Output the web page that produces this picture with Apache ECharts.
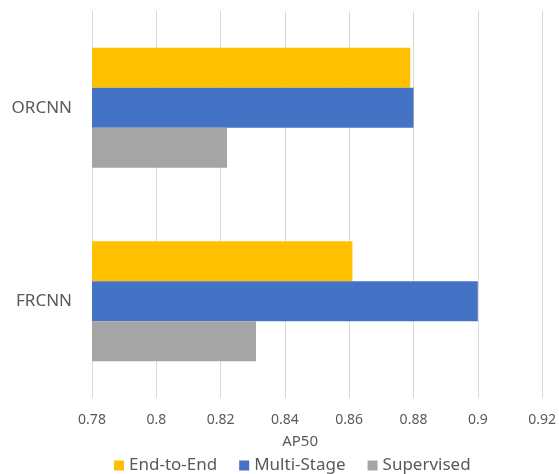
<!DOCTYPE html>
<html>
<head>
<meta charset="utf-8">
<script src="https://cdn.jsdelivr.net/npm/echarts@6/dist/echarts.min.js"></script>
<style>
  html, body { margin: 0; padding: 0; background: #ffffff; }
  #chart { width: 559px; height: 474px; }
</style>
</head>
<body>
<div id="chart"></div>
<script>
// Detectors compared on AP50 (bottom to top on the category axis)
const categories = ['FRCNN', 'ORCNN'];

// AP50 per training scheme, aligned with categories
const endToEnd   = [0.861, 0.879];
const multiStage = [0.900, 0.880];
const supervised = [0.831, 0.822];

// Value-axis range and step
const axisMin = 0.78;
const axisMax = 0.92;
const axisStep = 0.02;

const legendOrder = ['End-to-End', 'Multi-Stage', 'Supervised'];

const font = '"Noto Sans", "Open Sans", sans-serif';
const textColor = '#595959';

const chart = echarts.init(document.getElementById('chart'), null, { renderer: 'canvas' });

chart.setOption({
  animation: false,
  backgroundColor: '#ffffff',
  grid: { left: 92, right: 15, top: 11, bottom: 76, containLabel: false },
  legend: {
    data: legendOrder,
    bottom: 0,
    left: 114,
    padding: 0,
    itemWidth: 10,
    itemHeight: 10,
    itemGap: 22,
    icon: 'rect',
    textStyle: { fontFamily: font, fontSize: 17, color: textColor }
  },
  xAxis: {
    type: 'value',
    min: axisMin,
    max: axisMax,
    interval: axisStep,
    name: 'AP50',
    nameLocation: 'middle',
    nameGap: 36,
    nameTextStyle: { fontFamily: font, fontSize: 15, color: textColor, padding: [0, 34, 0, 0] },
    axisLine: { show: false },
    axisTick: { show: false },
    axisLabel: {
      fontFamily: font,
      fontSize: 14,
      color: textColor,
      margin: 15,
      formatter: v => String(parseFloat(v.toFixed(2)))
    },
    splitLine: { show: true, lineStyle: { color: '#d9d9d9', width: 1 } }
  },
  yAxis: {
    type: 'category',
    data: categories,
    axisLine: { show: false },
    axisTick: { show: false },
    axisLabel: { fontFamily: font, fontSize: 17, color: textColor, margin: 20 },
    splitLine: { show: false }
  },
  // Within each group the first series sits on top
  series: [
    {
      name: 'End-to-End', type: 'bar', data: endToEnd,
      barWidth: 40, barGap: '0%',
      itemStyle: { color: '#ffc000' }
    },
    {
      name: 'Multi-Stage', type: 'bar', data: multiStage,
      barWidth: 40, barGap: '0%',
      itemStyle: { color: '#4472c4' }
    },
    {
      name: 'Supervised', type: 'bar', data: supervised,
      barWidth: 40, barGap: '0%',
      itemStyle: { color: '#a5a5a5' }
    }
  ]
});
</script>
</body>
</html>
